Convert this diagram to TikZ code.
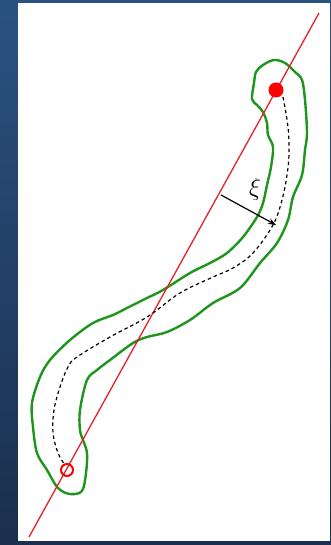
\documentclass[tikz,border=0pt]{standalone}
\usetikzlibrary{arrows.meta}
\definecolor{bgtop}{HTML}{2A5281}
\definecolor{bgbot}{HTML}{1B2F4E}
\definecolor{tubegreen}{HTML}{1E961E}
\definecolor{axisred}{HTML}{E8202A}
\tikzset{
  tube/.style={draw=tubegreen, line width=2.4pt, line join=round},
  axis/.style={draw=axisred, line width=1.3pt},
  center/.style={draw=black, line width=1.2pt, dash pattern=on 3.5pt off 3pt},
  fulldot/.style={circle, fill=red, inner sep=0pt, minimum size=15pt},
  opendot/.style={circle, draw=red, line width=2pt, inner sep=0pt, minimum size=12pt},
}
\begin{document}
\begin{tikzpicture}[x=1pt,y=-1pt]
\useasboundingbox (0,0) rectangle (331,545);
\shade[top color=bgtop, bottom color=bgbot] (0,0) rectangle (331,545);
\fill[white] (18,3) rectangle (330,541);
% green tube outline
\draw[tube] plot[smooth cycle, tension=0.55] coordinates {
 (274,60) (263,65) (256,72) (254,83) (252,99) (257,105) (263,112) (267,123)
 (268,135) (273,147) (271,167) (267,185) (263,203) (257,217) (243,237)
 (227,253) (210,263) (190,273) (163,290) (147,298) (127,308) (113,315)
 (93,323) (70,340) (50,360) (40,377) (32,403) (33,427) (37,453) (47,470)
 (58,488) (70,494) (82,491) (86,473) (87,453) (83,440) (80,430) (80,410)
 (87,380) (97,370) (110,360) (133,343) (147,337) (167,332) (190,320)
 (213,303) (240,288) (260,263) (277,243) (288,220) (293,197) (302,175)
 (305,150) (307,133) (305,100) (302,80) (295,72) (285,63)};
% red axis
\coordinate (atop) at (319,13);
\coordinate (abot) at (29,537);
\draw[axis] (atop) -- (abot);
% dashed centre line
\node[fulldot] (s) at (276,90) {};
\node[opendot] (e) at (67,470) {};
\draw[center] plot[smooth, tension=0.6] coordinates {
 (283,97) (288,127) (289,153) (287,175) (282,200) (273,225) (253,253)
 (233,268) (213,277) (180,293) (147,317) (110,337) (77,357) (68,367)
 (60,387) (54,410) (53,433) (58,453) (65,465)};
% xi arrow
\coordinate (p) at (221,195);
\coordinate (q) at (276,225);
\draw[line width=1.2pt, -{Stealth[length=8pt,width=6pt]}] (p) -- (q);
\node[font=\fontsize{30}{30}\selectfont] (xi) at (255,189) {$\xi$};
\end{tikzpicture}
\end{document}
